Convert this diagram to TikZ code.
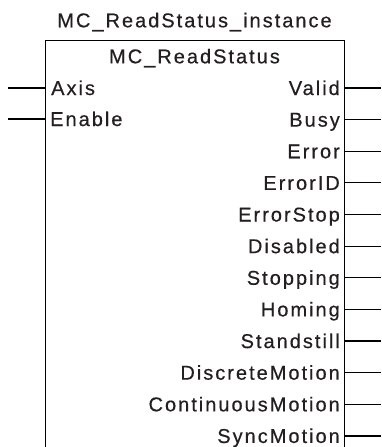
\documentclass[tikz,border=0pt]{standalone}
\usepackage{fontspec}
\setmainfont{Liberation Sans}[LetterSpace=10, FakeBold=0.5]
\usetikzlibrary{positioning}

\definecolor{fbink}{RGB}{35,31,32}

\begin{document}
\begin{tikzpicture}[
    x=1pt, y=1pt,
    fbtext/.style = {font=\fontsize{20}{22}\selectfont, text=fbink,
                     inner sep=0pt},
    inp/.style    = {fbtext, anchor=base west},
    outp/.style   = {fbtext, anchor=base east},
    pin/.style    = {line width=1.2pt},
    fbox/.style   = {line width=1.3pt},
]
\useasboundingbox (0,0) rectangle (381,-447);
\clip (0,0) rectangle (381,-447);

% --- instance name and block name ---
\node[fbtext, anchor=base] (inst) at (194.5,-27.3) {MC\_ReadStatus\_instance};
\node[fbtext, anchor=base] (fbname) at (194.5,-63.3) {MC\_ReadStatus};

% --- block outline (runs off the bottom) ---
\coordinate (tl) at (45.5,-40.7);
\coordinate (br) at (344.5,-460);
\draw[fbox] (tl |- br) -- (tl) -- (tl -| br) -- (br);

% --- inputs ---
\coordinate (ie1) at (8,-88);
\coordinate (ie2) at (8,-119);
\node[inp] (axis) at (51,-95) {Axis};
\node[inp] (enable) at (50,-126) {Enable};
\draw[pin] (ie1) -- (ie1 -| tl);
\draw[pin] (ie2) -- (ie2 -| tl);

% --- outputs ---
\foreach \name [count=\i] in {Valid, Busy, Error, ErrorID, ErrorStop,
    Disabled, Stopping, Homing, Standstill, DiscreteMotion,
    ContinuousMotion, SyncMotion} {
  \node[outp] (o\i) at (340,{-95-(\i-1)*31.63}) {\name};
  \coordinate (oe\i) at (381,{-88-(\i-1)*31.63});
  \draw[pin] (oe\i -| br) -- (oe\i);
}

\end{tikzpicture}
\end{document}
